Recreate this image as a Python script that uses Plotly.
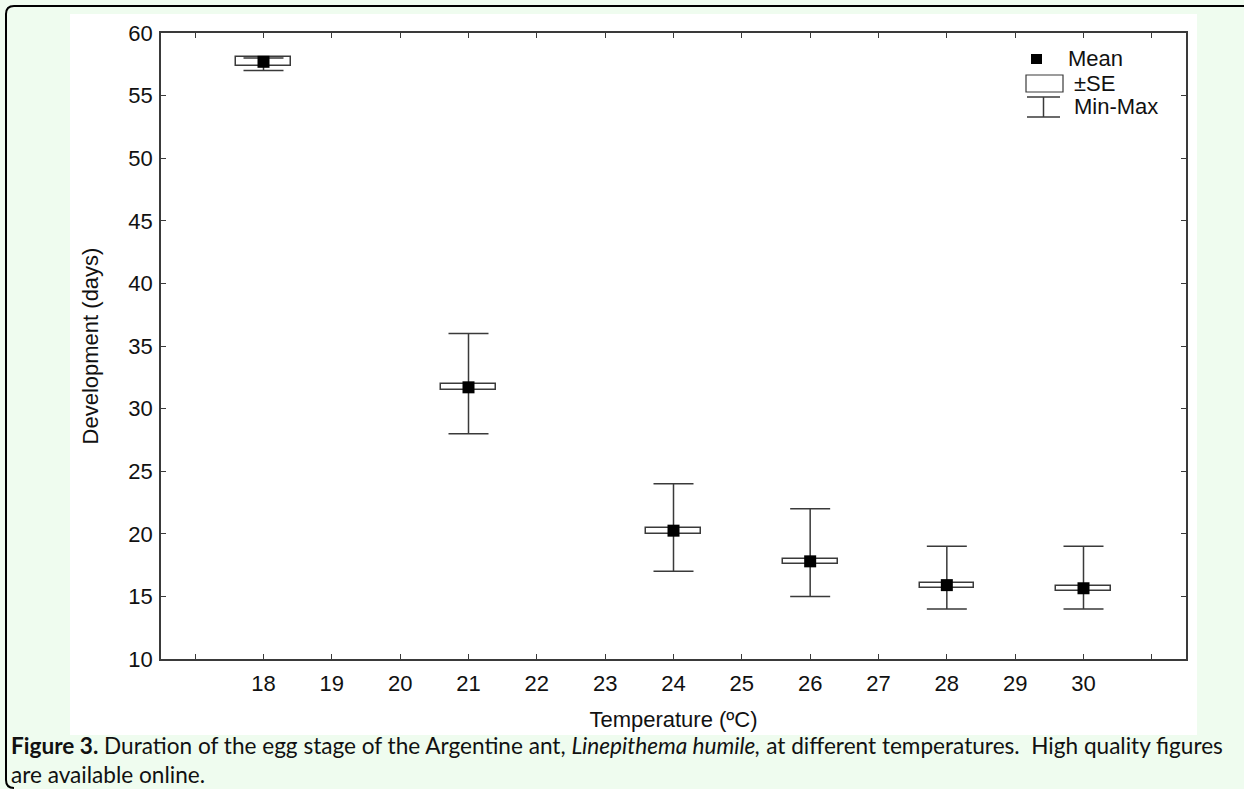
import plotly.graph_objects as go

# ---- data ----
temps = [18, 21, 24, 26, 28, 30]
means = [57.7, 31.7, 20.25, 17.8, 15.9, 15.65]
se_low = [57.35, 31.45, 20.0, 17.55, 15.7, 15.4]
se_high = [58.05, 32.0, 20.45, 18.0, 16.05, 15.85]
mins = [57, 28, 17, 15, 14, 14]
maxs = [58, 36, 24, 22, 19, 19]

x_tickvals = list(range(17, 32))
x_ticktext = ["" if v in (17, 31) else str(v) for v in x_tickvals]
y_tickvals = list(range(10, 61, 5))

# ---- layout geometry (pixels) ----
W, H = 1244, 789
L, R, T, B = 161, 1186, 33, 659
PW, PH = R - L, B - T


def px(xp):
    return (xp - L) / PW


def py(yp):
    return (B - yp) / PH


LINE = "#3a3a3a"
FONT = "Liberation Sans, Arial, sans-serif"
FS = 22

fig = go.Figure()

# ±SE boxes
fig.add_trace(go.Bar(
    x=temps,
    base=se_low,
    y=[h - l for h, l in zip(se_high, se_low)],
    width=0.8,
    marker=dict(color="white", line=dict(color=LINE, width=1.5)),
    showlegend=False,
    hoverinfo="skip",
))

# Min-Max whiskers + mean squares
fig.add_trace(go.Scatter(
    x=temps,
    y=means,
    mode="markers",
    marker=dict(symbol="square", size=12, color="black"),
    error_y=dict(
        type="data",
        symmetric=False,
        array=[mx - m for mx, m in zip(maxs, means)],
        arrayminus=[m - mn for m, mn in zip(means, mins)],
        width=20,
        thickness=1.5,
        color=LINE,
    ),
    showlegend=False,
))

shapes = []
# white panel behind the chart
shapes.append(dict(type="rect", xref="paper", yref="paper",
                   x0=px(70), x1=px(1197), y0=py(735), y1=py(14),
                   fillcolor="white", line=dict(width=0), layer="below"))
# frame border of the figure box (top + left, rounded corners)
path = (f"M {px(1250)},{py(6)} L {px(14)},{py(6)} "
        f"Q {px(6)},{py(6)} {px(6)},{py(14)} "
        f"L {px(6)},{py(780)} Q {px(6)},{py(788)} {px(14)},{py(788)}")
shapes.append(dict(type="path", xref="paper", yref="paper", path=path,
                   line=dict(color="black", width=2), layer="above"))

# manual legend
shapes.append(dict(type="rect", xref="paper", yref="paper",
                   x0=px(1031), x1=px(1042), y0=py(64), y1=py(54),
                   fillcolor="black", line=dict(width=0)))
shapes.append(dict(type="rect", xref="paper", yref="paper",
                   x0=px(1026), x1=px(1063), y0=py(92), y1=py(75),
                   fillcolor="white", line=dict(color=LINE, width=1.2)))
for y_ in (97, 117):
    shapes.append(dict(type="line", xref="paper", yref="paper",
                       x0=px(1027), x1=px(1060), y0=py(y_), y1=py(y_),
                       line=dict(color=LINE, width=1.5)))
shapes.append(dict(type="line", xref="paper", yref="paper",
                   x0=px(1043.5), x1=px(1043.5), y0=py(97), y1=py(117),
                   line=dict(color=LINE, width=1.5)))

annotations = []
for txt, xl, yc in (("Mean", 1066, 58), ("±SE", 1072, 83), ("Min-Max", 1072, 107)):
    annotations.append(dict(text=txt, xref="paper", yref="paper",
                            x=px(xl), y=py(yc), xanchor="left", yanchor="middle",
                            showarrow=False,
                            font=dict(family=FONT, size=FS, color="#111")))

# caption (one two-line annotation)
CAP_FONT = "Lato, 'Open Sans', sans-serif"
CAP_FS = 22.6
annotations.append(dict(
    text=("<b>Figure 3.</b> Duration of the egg stage of the Argentine ant, "
          "<i>Linepithema humile,</i> at different temperatures.  High quality figures"
          "<br>are available online."),
    xref="paper", yref="paper", x=px(10), y=py(760), xanchor="left", yanchor="middle",
    align="left", borderpad=0,
    showarrow=False, font=dict(family=CAP_FONT, size=CAP_FS, color="#111")))

fig.update_layout(
    width=W, height=H,
    margin=dict(l=L, r=W - R, t=T, b=H - B, pad=0),
    paper_bgcolor="#effcef",
    plot_bgcolor="white",
    shapes=shapes,
    annotations=annotations,
    showlegend=False,
    bargap=0,
    font=dict(family=FONT, size=FS, color="#111"),
)

fig.update_xaxes(
    range=[16.5, 31.5],
    tickmode="array", tickvals=x_tickvals, ticktext=x_ticktext,
    ticks="inside", ticklen=5, tickcolor=LINE, tickwidth=1,
    showline=True, linecolor=LINE, linewidth=1.5, mirror="ticks",
    showgrid=False, zeroline=False,
    tickfont=dict(family=FONT, size=FS, color="#111"),
    ticklabelstandoff=4,
    title=dict(text="Temperature (ºC)", font=dict(family=FONT, size=FS, color="#111"), standoff=16),
)
fig.update_yaxes(
    range=[10, 60],
    tickmode="array", tickvals=y_tickvals,
    ticks="inside", ticklen=5, tickcolor=LINE, tickwidth=1,
    showline=True, linecolor=LINE, linewidth=1.5, mirror="ticks",
    showgrid=False, zeroline=False,
    tickfont=dict(family=FONT, size=FS, color="#111"),
    ticklabelstandoff=2,
    title=dict(text="Development (days)", font=dict(family=FONT, size=FS, color="#111"), standoff=24),
)

fig.write_html(
    "out.html",
    config={"displayModeBar": False},
    post_script="document.body.style.margin='0';document.body.style.overflow='hidden';",
)
